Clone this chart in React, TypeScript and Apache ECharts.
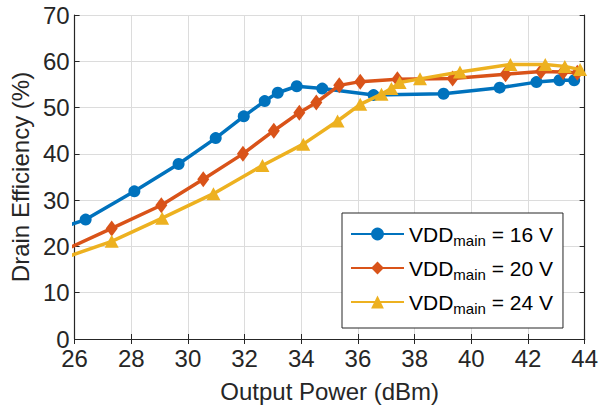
import React, { useEffect, useRef } from "react";
import * as echarts from "echarts";

const xTicks = [26, 28, 30, 32, 34, 36, 38, 40, 42, 44];
const yTicks = [0, 10, 20, 30, 40, 50, 60, 70];

const vdd = ["16", "20", "24"];

const x16 = [25.85, 26.39, 28.11, 29.67, 30.98, 31.97, 32.71, 33.17, 33.84, 34.74, 36.55, 39.02, 41.0, 42.3, 43.11, 43.63];
const y16 = [24.7, 25.8, 31.9, 37.8, 43.4, 48.1, 51.4, 53.2, 54.6, 54.1, 52.7, 53.0, 54.3, 55.5, 55.9, 55.9];

const x20 = [25.85, 27.31, 29.06, 30.54, 31.94, 33.03, 33.93, 34.53, 35.34, 36.08, 37.39, 39.34, 41.21, 42.46, 43.24, 43.74];
const y20 = [19.8, 23.9, 28.9, 34.5, 40.0, 45.0, 48.9, 51.1, 54.8, 55.6, 56.1, 56.3, 57.2, 57.8, 57.7, 57.5];

const x24 = [25.85, 27.31, 29.09, 30.9, 32.63, 34.07, 35.28, 36.08, 36.83, 37.18, 37.47, 38.19, 39.6, 41.38, 42.61, 43.3, 43.84];
const y24 = [18.0, 21.1, 26.1, 31.4, 37.5, 42.1, 47.1, 50.7, 52.9, 54.1, 55.4, 56.2, 57.7, 59.3, 59.3, 58.9, 58.2];

const colors = ["#0072BD", "#D95319", "#EDB120"];
const FONT = "'Liberation Sans', Arial, Helvetica, sans-serif";
const AX = "#262626";

function pairs(xs: number[], ys: number[]) {
  return xs.map((x, i) => [x, ys[i]]);
}

export default function App() {
  const ref = useRef<HTMLDivElement>(null);
  useEffect(() => {
    if (!ref.current) return;
    const chart = echarts.init(ref.current, undefined, { renderer: "svg" });
    const xMin = xTicks[0];
    const xMax = xTicks[xTicks.length - 1];
    const xInt = xTicks[1] - xTicks[0];
    const yMin = yTicks[0];
    const yMax = yTicks[yTicks.length - 1];
    const yInt = yTicks[1] - yTicks[0];
    const tickLabel = { color: AX, fontSize: 24, fontFamily: FONT };
    const axisLine = { show: true, lineStyle: { color: AX, width: 1.2 } };
    const axisTick = { show: true, inside: true, length: 5, lineStyle: { color: AX, width: 1 } };
    const splitLine = { show: true, lineStyle: { color: "#dcdcdc", width: 1 } };
    const symbols = ["circle", "diamond", "triangle"];
    const sizes: any[] = [12, [12, 16], [14, 13]];
    const datas = [pairs(x16, y16), pairs(x20, y20), pairs(x24, y24)];
    chart.setOption({
      animation: false,
      backgroundColor: "#ffffff",
      textStyle: { fontFamily: FONT },
      grid: { left: 66.5, right: 13.5, top: 15, bottom: 66.5, containLabel: false },
      legend: {
        orient: "vertical",
        left: 342,
        top: 213,
        width: 226,
        padding: [7, 10, 12, 8],
        itemGap: 6,
        itemWidth: 53,
        itemHeight: 16,
        backgroundColor: "#ffffff",
        borderColor: AX,
        borderWidth: 1,
        borderRadius: 0,
        data: vdd,
        formatter: (n: string) => `{n|VDD}{s|main}{n| = ${n} V}`,
        textStyle: {
          color: "#000000",
          fontFamily: FONT,
          lineHeight: 28,
          rich: {
            n: { fontSize: 21, lineHeight: 28, verticalAlign: "middle", fontFamily: FONT, color: "#000" },
            s: { fontSize: 15, lineHeight: 28, verticalAlign: "bottom", fontFamily: FONT, color: "#000" },
          },
        },
      },
      xAxis: [
        {
          type: "value",
          min: xMin,
          max: xMax,
          interval: xInt,
          name: "Output Power (dBm)",
          nameLocation: "middle",
          nameGap: 40,
          nameTextStyle: { color: AX, fontSize: 24, fontFamily: FONT },
          axisLine,
          axisTick,
          splitLine,
          axisLabel: { ...tickLabel, margin: 7 },
        },
        {
          type: "value",
          position: "top",
          min: xMin,
          max: xMax,
          interval: xInt,
          axisLine,
          axisTick,
          splitLine: { show: false },
          axisLabel: { show: false },
        },
      ],
      yAxis: [
        {
          type: "value",
          min: yMin,
          max: yMax,
          interval: yInt,
          name: "Drain Efficiency (%)",
          nameLocation: "middle",
          nameGap: 31,
          nameTextStyle: { color: AX, fontSize: 24, fontFamily: FONT },
          axisLine,
          axisTick,
          splitLine,
          axisLabel: { ...tickLabel, margin: 5 },
        },
        {
          type: "value",
          position: "right",
          min: yMin,
          max: yMax,
          interval: yInt,
          axisLine,
          axisTick,
          splitLine: { show: false },
          axisLabel: { show: false },
        },
      ],
      series: vdd.map((name, i) => ({
        name,
        type: "line",
        data: datas[i],
        symbol: symbols[i],
        symbolSize: sizes[i],
        showSymbol: true,
        clip: true,
        color: colors[i],
        lineStyle: { color: colors[i], width: 3.5 },
        itemStyle: { color: colors[i] },
        z: 2 + i,
      })),
    });
    return () => chart.dispose();
  }, []);
  return <div ref={ref} style={{ position: "fixed", left: 0, top: 0, width: 601, height: 408 }} />;
}
